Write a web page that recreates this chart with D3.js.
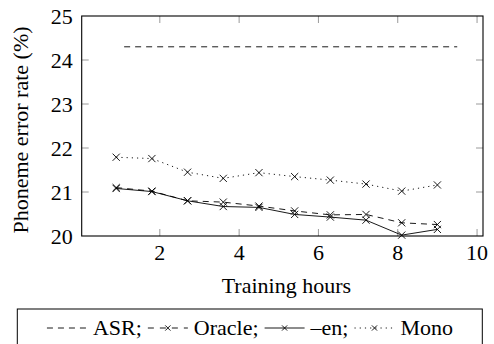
<!DOCTYPE html>
<html>
<head>
<meta charset="utf-8">
<script src="https://cdn.jsdelivr.net/npm/d3@7"></script>
<style>
	body { margin: 0; background: #fff; }
</style>
</head>
<body>
<div id="chart"></div>
<script>
// training hours for each run
var hours = [0.9, 1.8, 2.7, 3.6, 4.5, 5.4, 6.3, 7.2, 8.1, 9.0];
var asrHours = [1.1, 9.5];
var asr = [24.3, 24.3];
var oracle = [21.1, 21.02, 20.8, 20.77, 20.68, 20.57, 20.48, 20.49, 20.3, 20.26];
var en = [21.08, 21.01, 20.8, 20.67, 20.65, 20.49, 20.43, 20.36, 20.02, 20.15];
var mono = [21.79, 21.76, 21.45, 21.31, 21.44, 21.35, 21.27, 21.18, 21.02, 21.16];
var xTicks = [2, 4, 6, 8, 10];
var yTicks = [20, 21, 22, 23, 24, 25];
var legendLabels = ['ASR;', 'Oracle;', '\u2013en;', 'Mono'];

var FONT = '"Liberation Serif", "Times New Roman", Times, Tinos';
var fs = 22;

var W = 494, H = 344;
var pLeft = 81.7, pRight = 483, pTop = 16, pBottom = 236;

var svg = d3.select('#chart').append('svg').attr('width', W).attr('height', H);

function label(sel){
	return sel.style('font-family', FONT).attr('font-size', fs).attr('fill', '#000');
}

var x = d3.scaleLinear().domain([0.03, 10.15]).range([pLeft, pRight]);
var y = d3.scaleLinear().domain([20, 25]).range([pBottom, pTop]);

// inner ticks on all four sides
var tl = 7;
var g = svg.append('g').attr('stroke', '#9a9a9a').attr('stroke-width', 1);
xTicks.forEach(function(t){
	if (x(t) > pRight - 1) return;
	g.append('line').attr('x1', x(t)).attr('x2', x(t)).attr('y1', pBottom).attr('y2', pBottom - tl);
	g.append('line').attr('x1', x(t)).attr('x2', x(t)).attr('y1', pTop).attr('y2', pTop + tl);
});
yTicks.forEach(function(t){
	if (t == 20 || t == 25) return;
	g.append('line').attr('x1', pLeft).attr('x2', pLeft + tl).attr('y1', y(t)).attr('y2', y(t));
	g.append('line').attr('x1', pRight).attr('x2', pRight - tl).attr('y1', y(t)).attr('y2', y(t));
});

svg.append('rect').attr('x', pLeft).attr('y', pTop).attr('width', pRight - pLeft).attr('height', pBottom - pTop)
	.attr('fill', 'none').attr('stroke', '#000').attr('stroke-width', 1.1);

// tick labels
label(svg.selectAll('.xl').data(xTicks).enter().append('text'))
	.attr('x', function(d){ return x(d); }).attr('y', pBottom + 24)
	.attr('text-anchor', 'middle').text(function(d){ return d; });
label(svg.selectAll('.yl').data(yTicks).enter().append('text'))
	.attr('x', pLeft - 9).attr('y', function(d){ return y(d) + 8; })
	.attr('text-anchor', 'end').text(function(d){ return d; });

label(svg.append('text')).attr('x', (pLeft + pRight) / 2 + 4).attr('y', 293)
	.attr('text-anchor', 'middle').text('Training hours');
label(svg.append('text')).attr('transform', 'translate(28,' + ((pTop + pBottom) / 2 + 4) + ') rotate(-90)')
	.attr('text-anchor', 'middle').text('Phoneme error rate (%)');

var line = d3.line().x(function(d){ return x(d[0]); }).y(function(d){ return y(d[1]); });

var series = [
	{ xs: asrHours, ys: asr, dash: '6,5', marks: false },
	{ xs: hours, ys: oracle, dash: '6,5', marks: true },
	{ xs: hours, ys: en, dash: null, marks: true },
	{ xs: hours, ys: mono, dash: '1.2,4', marks: true }
];

series.forEach(function(s){
	var pts = s.xs.map(function(v, i){ return [v, s.ys[i]]; });
	svg.append('path').attr('d', line(pts)).attr('fill', 'none')
		.attr('stroke', '#000').attr('stroke-width', 0.9)
		.attr('stroke-dasharray', s.dash);
	if (s.marks) drawCrosses(pts.map(function(p){ return [x(p[0]), y(p[1])]; }), 3.6);
});

// legend, laid out left to right from measured text widths
var ly = 328;
svg.append('rect').attr('x', 17.3).attr('y', 309).attr('width', 465).attr('height', 45)
	.attr('fill', 'none').attr('stroke', '#000').attr('stroke-width', 1);
var dashes = ['6,5', '6,6', null, '1.2,4'];
var lg = svg.append('g');
var cx = 0;
legendLabels.forEach(function(t, i){
	lg.append('line').attr('x1', cx).attr('x2', cx + 40).attr('y1', ly).attr('y2', ly)
		.attr('stroke', '#000').attr('stroke-width', 0.9).attr('stroke-dasharray', dashes[i]);
	if (i > 0) drawCrosses([[cx + 20, ly]], 2.6, lg);
	cx += 46;
	var tx = label(lg.append('text')).attr('x', cx).attr('y', 335).text(t);
	cx += tx.node().getComputedTextLength() + 6;
});
lg.attr('transform', 'translate(' + (250 - (cx - 6) / 2) + ',0)');

function drawCrosses(pts, r, parent){
	var p0 = parent || svg;
	pts.forEach(function(p){
		p0.append('path')
			.attr('d', 'M' + (p[0] - r) + ',' + (p[1] - r) + 'L' + (p[0] + r) + ',' + (p[1] + r) +
				'M' + (p[0] - r) + ',' + (p[1] + r) + 'L' + (p[0] + r) + ',' + (p[1] - r))
			.attr('stroke', '#000').attr('stroke-width', 0.9).attr('fill', 'none');
	});
}
</script>
</body>
</html>
